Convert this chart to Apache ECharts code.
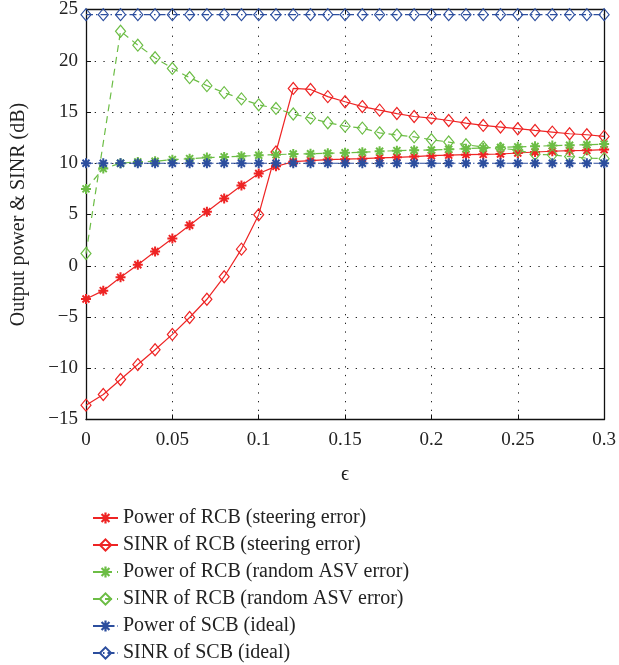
<!DOCTYPE html>
<html><head><meta charset="utf-8">
<script src="https://cdn.jsdelivr.net/npm/echarts@6/dist/echarts.min.js"></script>
<style>html,body{margin:0;padding:0;background:#fff}#c{width:619px;height:665px}</style>
</head><body><div id="c"></div>
<script>
const epsilon = [0,0.01,0.02,0.03,0.04,0.05,0.06,0.07,0.08,0.09,0.10,0.11,0.12,0.13,0.14,0.15,0.16,0.17,0.18,0.19,0.20,0.21,0.22,0.23,0.24,0.25,0.26,0.27,0.28,0.29,0.30];
const powerRCBSteering = [-3.24,-2.43,-1.13,0.10,1.39,2.65,3.95,5.27,6.57,7.83,9.0,9.7,10.15,10.26,10.36,10.40,10.45,10.52,10.58,10.65,10.74,10.79,10.84,10.87,10.90,11.0,11.1,11.17,11.23,11.26,11.33];
const sinrRCBSteering = [-13.6,-12.56,-11.1,-9.64,-8.19,-6.7,-5.05,-3.27,-1.07,1.62,4.98,11.1,17.3,17.2,16.5,16.0,15.53,15.18,14.85,14.56,14.4,14.17,13.92,13.69,13.53,13.37,13.2,13.04,12.88,12.78,12.62];
const powerRCBAsv = [7.5,9.48,10.0,10.13,10.2,10.35,10.45,10.55,10.62,10.68,10.78,10.84,10.9,10.92,10.97,11.02,11.07,11.17,11.23,11.27,11.3,11.36,11.42,11.5,11.55,11.6,11.65,11.72,11.75,11.81,11.87];
const sinrRCBAsv = [1.19,12.0,22.88,21.52,20.29,19.25,18.35,17.57,16.89,16.28,15.7,15.35,14.8,14.4,13.95,13.62,13.43,12.97,12.75,12.57,12.3,12.07,11.81,11.58,11.45,11.3,10.87,10.82,10.65,10.5,10.45];
const powerSCB = [10,10,10,10,10,10,10,10,10,10,10,10,10,10,10,10,10,10,10,10,10,10,10,10,10,10,10,10,10,10,10];
const sinrSCB = [24.5,24.5,24.5,24.5,24.5,24.5,24.5,24.5,24.5,24.5,24.5,24.5,24.5,24.5,24.5,24.5,24.5,24.5,24.5,24.5,24.5,24.5,24.5,24.5,24.5,24.5,24.5,24.5,24.5,24.5,24.5];
const seriesNames = ['Power of RCB (steering error)','SINR of RCB (steering error)','Power of RCB (random ASV error)','SINR of RCB (random ASV error)','Power of SCB (ideal)','SINR of SCB (ideal)'];

const RED = '#ee2424', GREEN = '#6cbd45', BLUE = '#2c4e9e';
const FONT = 'Liberation Serif';
const STAR = 'path://M-1,-5L1,-5L1,5L-1,5Z M-5,-1L5,-1L5,1L-5,1Z M-4.2,-2.8L-2.8,-4.2L4.2,2.8L2.8,4.2Z M2.8,-4.2L4.2,-2.8L-2.8,4.2L-4.2,2.8Z';

function pairs(ys, hidden) {
  return ys.map((y, i) => (hidden && hidden.includes(i)) ? {value:[epsilon[i], y], symbol:'none'} : [epsilon[i], y]);
}
function mk(name, ys, color, dash, star, hidden) {
  return {
    name, type:'line', data: pairs(ys, hidden), color,
    symbol: star ? STAR : 'diamond',
    symbolSize: star ? 10 : [10, 12],
    showAllSymbol: true,
    lineStyle: {color, width: 1.2, type: dash},
    itemStyle: star ? {color} : {color: 'rgba(255,255,255,0)', borderColor: color, borderWidth: 1.2},
    emphasis: {disabled: true},
    animation: false
  };
}
const minus = v => String(v).replace('-', '\u2212');
const chart = echarts.init(document.getElementById('c'), null, {renderer:'canvas'});
const gridLine = {show:true, lineStyle:{color:'#222', width:1, type:[1.3, 7.4]}};
chart.setOption({
  backgroundColor:'#fff',
  animation:false,
  grid:{left:86, right:10, top:7, bottom:245.5, containLabel:false},
  xAxis:[{
    type:'value', min:0, max:0.3, interval:0.05,
    name:'\u03F5', nameLocation:'middle', nameGap:45,
    nameTextStyle:{fontFamily:FONT, fontSize:20, color:'#222'},
    axisLine:{onZero:false, lineStyle:{color:'#111', width:1.3}},
    axisTick:{inside:true, length:5, lineStyle:{color:'#111'}},
    axisLabel:{fontFamily:FONT, fontSize:19, color:'#222', margin:11, formatter:v=>String(+v.toFixed(2))},
    splitLine:gridLine
  },{
    type:'value', min:0, max:0.3, interval:0.05, position:'top',
    axisLine:{show:true, onZero:false, lineStyle:{color:'#111', width:1.3}},
    axisTick:{inside:true, length:5, lineStyle:{color:'#111'}},
    axisLabel:{show:false}, splitLine:{show:false}
  }],
  yAxis:[{
    type:'value', min:-15, max:25, interval:5,
    name:'Output power & SINR (dB)', nameLocation:'middle', nameGap:57, nameRotate:90,
    nameTextStyle:{fontFamily:FONT, fontSize:20, color:'#222'},
    axisLine:{show:true, onZero:false, lineStyle:{color:'#111', width:1.3}},
    axisTick:{show:true, inside:true, length:5, lineStyle:{color:'#111'}},
    axisLabel:{fontFamily:FONT, fontSize:19, color:'#222', margin:8, formatter:minus},
    splitLine:gridLine
  },{
    type:'value', min:-15, max:25, interval:5, position:'right',
    axisLine:{show:true, onZero:false, lineStyle:{color:'#111', width:1.3}},
    axisTick:{show:true, inside:true, length:5, lineStyle:{color:'#111'}},
    axisLabel:{show:false}, splitLine:{show:false}
  }],
  legend:{
    orient:'vertical', left:92, top:508, padding:0, itemWidth:25, itemHeight:14, itemGap:7,
    textStyle:{fontFamily:FONT, fontSize:20, color:'#222'},
    data:seriesNames
  },
  series:[
    mk(seriesNames[0], powerRCBSteering, RED, 'solid', true),
    mk(seriesNames[1], sinrRCBSteering, RED, 'solid', false),
    mk(seriesNames[2], powerRCBAsv, GREEN, [7,5], true),
    mk(seriesNames[3], sinrRCBAsv, GREEN, [7,5], false, [1]),
    mk(seriesNames[4], powerSCB, BLUE, [7,3,1.5,3], true),
    mk(seriesNames[5], sinrSCB, BLUE, [7,3,1.5,3], false)
  ]
});
</script></body></html>
